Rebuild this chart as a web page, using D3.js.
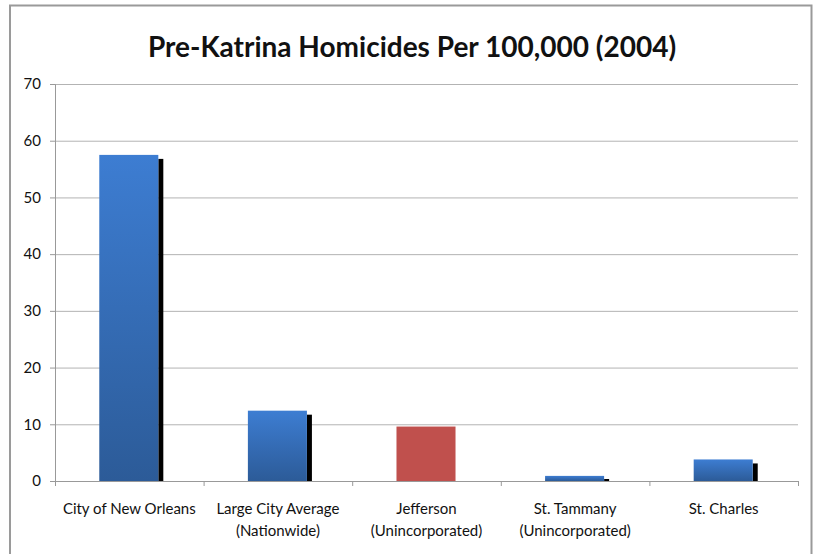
<!DOCTYPE html>
<html>
<head>
<meta charset="utf-8">
<script src="https://cdn.jsdelivr.net/npm/d3@7"></script>
<style>
  body { margin: 0; background: #fff; }
  svg { display: block; }
  .grid line { stroke: #b3b3b3; stroke-width: 1; }
  .grid path { display: none; }
  .axis text { font-family: Lato, "Open Sans", sans-serif; fill: #111; }
  .axis path, .axis line { stroke: #999; }
</style>
</head>
<body>
<div id="chart"></div>
<script>
// chart data
var title = "Pre-Katrina Homicides Per 100,000 (2004)"
var categories = [
    ["City of New Orleans"],
    ["Large City Average", "(Nationwide)"],
    ["Jefferson", "(Unincorporated)"],
    ["St. Tammany", "(Unincorporated)"],
    ["St. Charles"]
]
var values = [57.5, 12.4, 9.6, 0.9, 3.8]
var highlighted = ["Jefferson"]
var yTicks = [0, 10, 20, 30, 40, 50, 60, 70]

var W = 816, H = 554
var margin = {top: 84, right: 18, bottom: 73, left: 55}
var width = W - margin.left - margin.right
var height = H - margin.top - margin.bottom

var svg = d3.select("#chart").append("svg")
    .attr("width", W)
    .attr("height", H)

// gradient for the blue bars
var defs = svg.append("defs")
var grad = defs.append("linearGradient")
    .attr("id", "blueGrad")
    .attr("x1", 0).attr("y1", 0).attr("x2", 0).attr("y2", 1)
grad.append("stop").attr("offset", "0%").attr("stop-color", "#3d7dd2")
grad.append("stop").attr("offset", "100%").attr("stop-color", "#2c5b98")

// outer frame (no bottom edge visible)
svg.append("path")
    .attr("d", "M10," + H + " V5.5 H811.5 V" + H)
    .attr("fill", "none")
    .attr("stroke", "#9a9a9a")
    .attr("stroke-width", 2)

svg.append("text")
    .attr("x", 412)
    .attr("y", 57)
    .attr("text-anchor", "middle")
    .style("font-family", "Lato, 'Open Sans', sans-serif")
    .style("font-weight", "bold")
    .style("font-size", "28px")
    .style("fill", "#111")
    .text(title)

var g = svg.append("g")
    .attr("transform", "translate(" + margin.left + "," + margin.top + ")")

var names = categories.map(function(c) { return c.join(" ") })

var x = d3.scaleBand()
    .domain(names)
    .range([0, width])
    .paddingInner(0.596)
    .paddingOuter(0.298)

var xEdge = d3.scaleLinear()
    .domain([0, names.length])
    .range([0, width])

var y = d3.scaleLinear()
    .domain([0, 70])
    .range([height, 0])

// horizontal gridlines
g.append("g")
    .attr("class", "grid")
    .call(d3.axisLeft(y).tickValues(yTicks).tickSize(-width).tickFormat(""))

// y axis
var yAxis = g.append("g")
    .attr("class", "axis")
    .call(d3.axisLeft(y).tickValues(yTicks).tickSize(5).tickPadding(9))
yAxis.selectAll("text").style("font-size", "15px")

// shadows behind the blue bars
var rows = names.map(function(n, i) { return {name: n, value: values[i], hi: highlighted.indexOf(categories[i][0]) >= 0} })

g.selectAll(".shadow")
    .data(rows.filter(function(d) { return !d.hi }))
    .enter().append("rect")
    .attr("class", "shadow")
    .attr("x", function(d) { return x(d.name) + x.bandwidth() - 1 })
    .attr("y", function(d) { return Math.min(y(d.value) + 4, y(0) - 2) })
    .attr("width", 5)
    .attr("height", function(d) { return y(0) - Math.min(y(d.value) + 4, y(0) - 2) })
    .attr("fill", "#000")

g.selectAll(".bar")
    .data(rows)
    .enter().append("rect")
    .attr("class", "bar")
    .attr("x", function(d) { return x(d.name) })
    .attr("y", function(d) { return y(d.value) })
    .attr("width", x.bandwidth() - 1)
    .attr("height", function(d) { return y(0) - y(d.value) })
    .attr("fill", function(d) { return d.hi ? "#c0504d" : "url(#blueGrad)" })

// x axis line + boundary ticks
var xAxis = g.append("g")
    .attr("class", "axis")
    .attr("transform", "translate(0," + height + ")")
xAxis.call(d3.axisBottom(xEdge).ticks(names.length).tickSize(5).tickFormat(""))

// category labels, one or two lines
var labels = g.append("g")
    .attr("transform", "translate(0," + height + ")")
labels.selectAll("text")
    .data(categories)
    .enter().append("text")
    .attr("x", function(d, i) { return x(names[i]) + x.bandwidth() / 2 })
    .attr("y", 0)
    .attr("text-anchor", "middle")
    .style("font-family", "Lato, 'Open Sans', sans-serif")
    .style("font-size", "15px")
    .style("fill", "#111")
    .each(function(d) {
        var t = d3.select(this)
        d.forEach(function(line, k) {
            t.append("tspan")
                .attr("x", t.attr("x"))
                .attr("y", 33 + k * 22)
                .text(line)
        })
    })
</script>
</body>
</html>
